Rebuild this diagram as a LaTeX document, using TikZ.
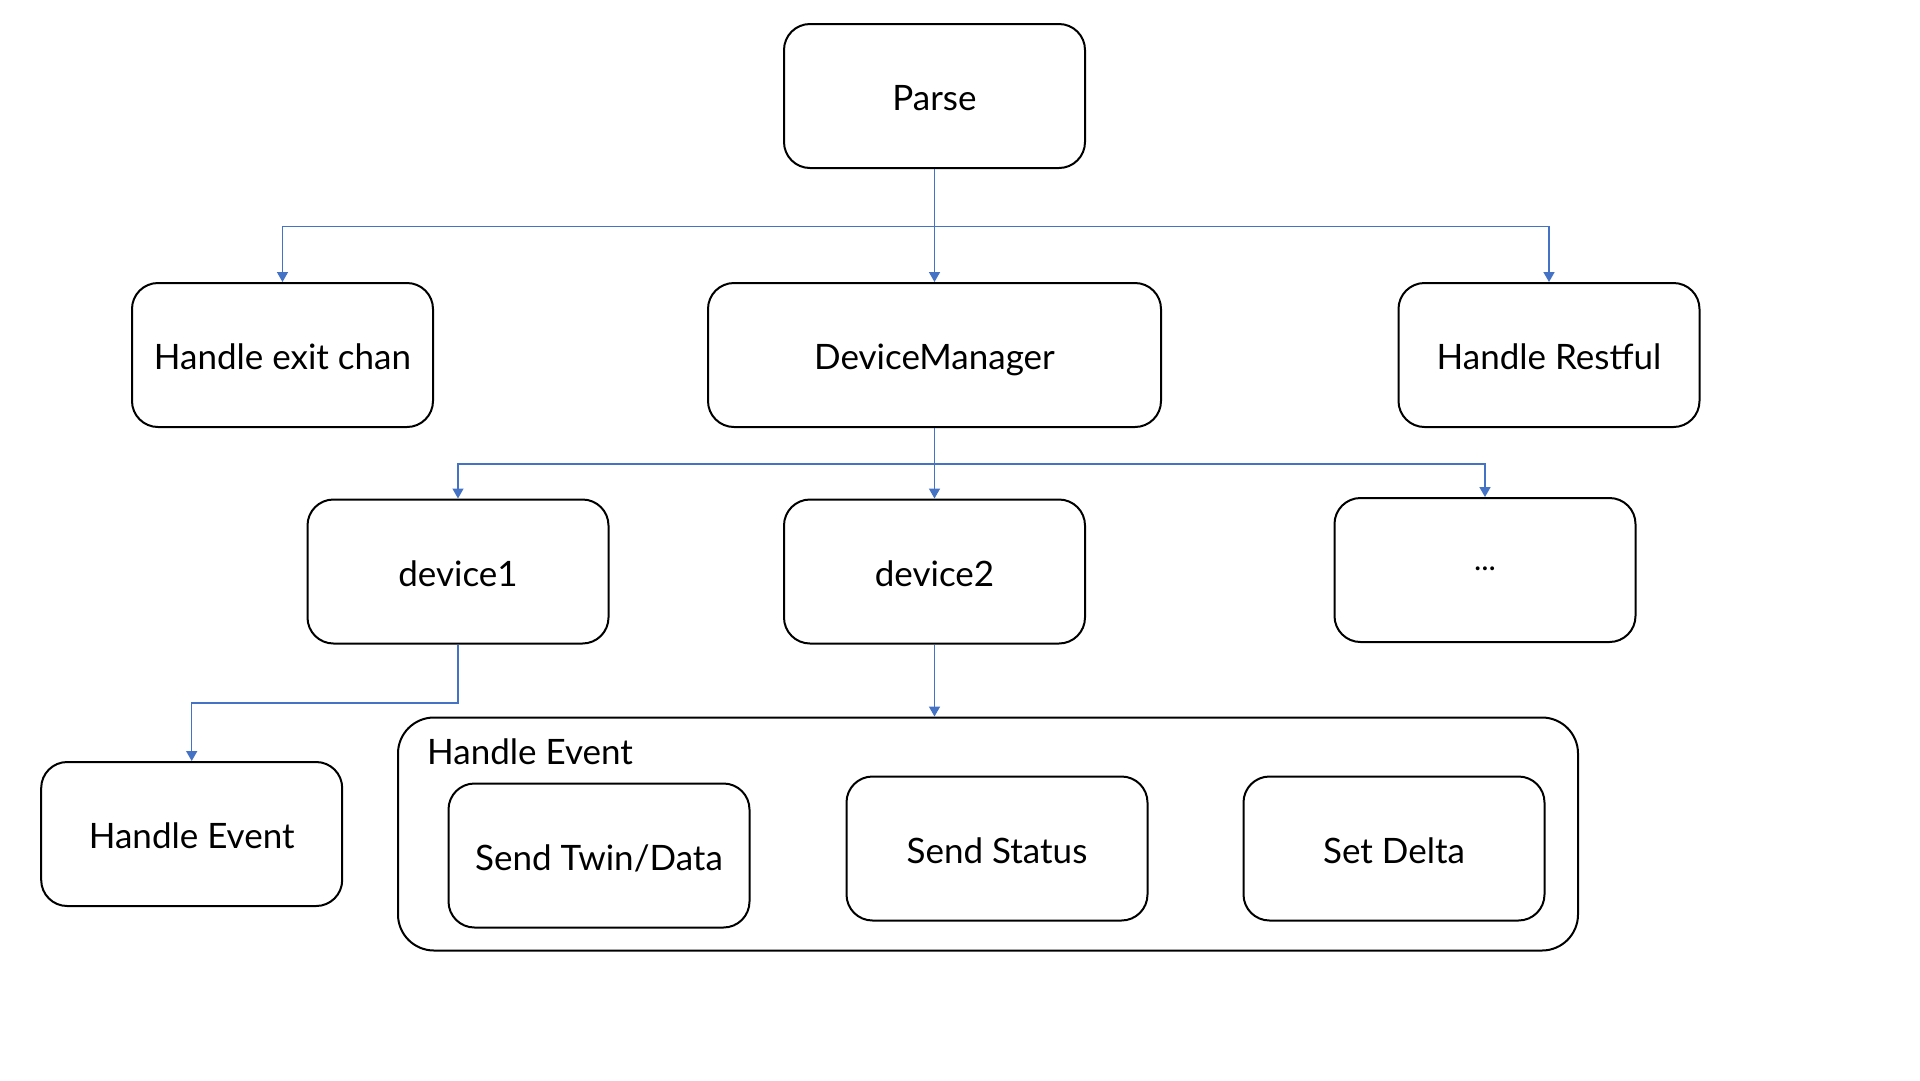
\documentclass[tikz,border=0pt]{standalone}
\usepackage{fontspec}
\setmainfont{Lato}
\usetikzlibrary{arrows.meta}
\definecolor{connblue}{HTML}{4472C4}
\tikzset{
  box/.style={draw=black, line width=2pt, rounded corners=26pt, rectangle, inner sep=0pt,
    minimum width=301pt, minimum height=144pt, font=\fontsize{35}{40}\selectfont,
    text height=29pt, text depth=0pt},
  conn/.style={draw=connblue, line width=1.5pt, -{Triangle[width=11pt,length=10pt]}},
}
\begin{document}
\begin{tikzpicture}[x=1pt,y=-1pt]
\fill[white] (0,0) rectangle (1920,1080);
\useasboundingbox (0,0) rectangle (1920,1080);

\node[box] (parse) at (934.5,96) {Parse};
\node[box] (hec) at (282.5,355) {Handle exit chan};
\node[box, minimum width=453pt] (dm) at (934.5,355) {DeviceManager};
\node[box] (hr) at (1549,355) {Handle Restful};

\node[box] (d1) at (458,571.5) {device1};
\node[box] (d2) at (934.5,571.5) {device2};
\node[box, font=\fontsize{31}{36}\selectfont, text height=0pt] (dots) at (1485,570) {...};

\node[box] (he) at (191.7,834) {Handle Event};
\node[box, minimum width=1180pt, minimum height=233pt, rounded corners=36pt] (cont) at (988,834) {};
\node[anchor=base west, inner sep=0pt, font=\fontsize{35}{40}\selectfont] (conttitle) at (427,764) {Handle Event};
\node[box] (std) at (599,855.5) {Send Twin/Data};
\node[box] (ss) at (997,848.5) {Send Status};
\node[box] (sd) at (1394,848.5) {Set Delta};

\coordinate (b1) at (934.5,226.5);
\coordinate (b2) at (934.5,464);
\coordinate (b3) at (458,703);

\draw[conn] (parse.south) -- (dm.north);
\draw[conn] (b1) -| (hec.north);
\draw[conn] (b1) -| (hr.north);

\draw[conn] (dm.south) -- (d2.north);
\draw[conn] (b2) -| (d1.north);
\draw[conn] (b2) -| (dots.north);

\draw[conn] (d1.south) -- (b3) -| (he.north);
\draw[conn] (d2.south) -- (d2.south |- cont.north);
\end{tikzpicture}
\end{document}
